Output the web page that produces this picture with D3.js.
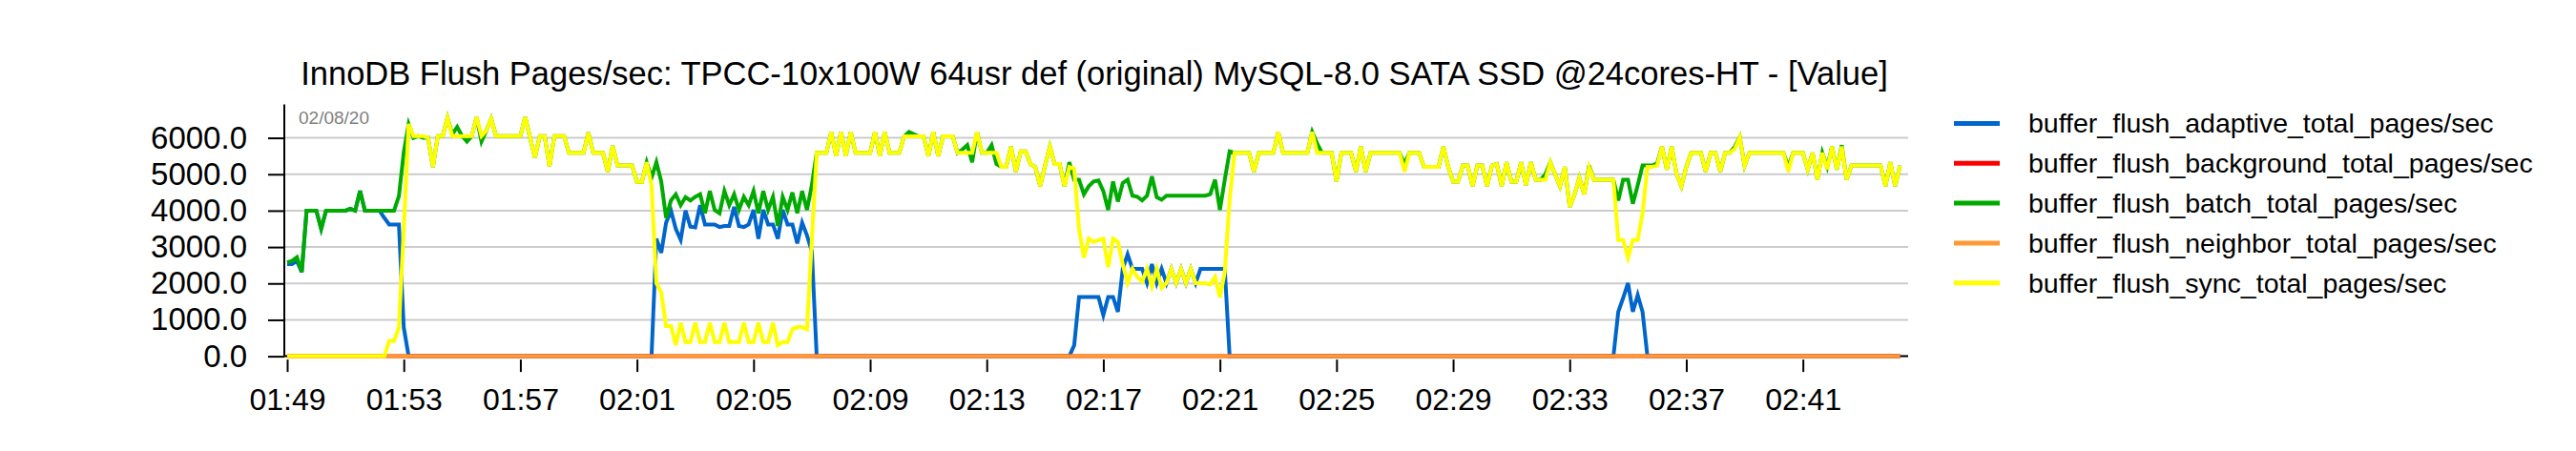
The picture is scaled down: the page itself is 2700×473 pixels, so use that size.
<!DOCTYPE html>
<html><head><meta charset="utf-8">
<script src="https://cdn.jsdelivr.net/npm/d3@7"></script>
<style>body{margin:0;background:#fff}svg{display:block}</style>
</head><body><svg id="c" width="2700" height="473"></svg>
<script>
const chartTitle = "InnoDB Flush Pages/sec: TPCC-10x100W 64usr def (original) MySQL-8.0 SATA SSD @24cores-HT - [Value]";
const dateLabel = "02/08/20";
const startTime = "2020-02-08T01:49:00";
const stepSeconds = 10;
const xTickLabels = ["01:49","01:53","01:57","02:01","02:05","02:09","02:13","02:17","02:21","02:25","02:29","02:33","02:37","02:41"];
const yTickValues = [0,1000,2000,3000,4000,5000,6000];
const seriesNames = ["buffer_flush_adaptive_total_pages/sec","buffer_flush_background_total_pages/sec","buffer_flush_batch_total_pages/sec","buffer_flush_neighbor_total_pages/sec","buffer_flush_sync_total_pages/sec"];
const seriesColors = ["#0066cc","#ff0000","#00aa00","#ff9933","#ffff00"];

const adaptivePages = [
2530,2530,2620,2310,4000,4000,4000,3500,4000,4000,
4000,4000,4000,4050,4000,4540,4000,4000,4000,4000,
3800,3620,3620,3620,790,0,0,0,0,0,
0,0,0,0,0,0,0,0,0,0,
0,0,0,0,0,0,0,0,0,0,
0,0,0,0,0,0,0,0,0,0,
0,0,0,0,0,0,0,0,0,0,
0,0,0,0,0,0,3230,2840,3670,4000,
3500,3200,4000,3560,3540,4150,3620,3620,3620,3550,
3580,3580,4100,3580,3550,3620,4020,3230,4020,3620,
3620,3230,4020,3620,3620,3100,3670,3320,2880,0,
0,0,0,0,0,0,0,0,0,0,
0,0,0,0,0,0,0,0,0,0,
0,0,0,0,0,0,0,0,0,0,
0,0,0,0,0,0,0,0,0,0,
0,0,0,0,0,0,0,0,0,0,
0,0,300,1630,1630,1630,1630,1630,1130,1630,
1630,1220,2400,2800,2400,2400,2400,2010,2530,2010,
2400,2010,2400,2010,2400,2010,2400,2010,2400,2400,
2400,2400,2400,2400,0,0,0,0,0,0,
0,0,0,0,0,0,0,0,0,0,
0,0,0,0,0,0,0,0,0,0,
0,0,0,0,0,0,0,0,0,0,
0,0,0,0,0,0,0,0,0,0,
0,0,0,0,0,0,0,0,0,0,
0,0,0,0,0,0,0,0,0,0,
0,0,0,0,0,0,0,0,0,0,
0,0,0,0,1220,1600,2010,1220,1680,1220,
0,0,0,0,0,0,0,0,0,0,
0,0,0,0,0,0,0,0,0,0,
0,0,0,0,0,0,0,0,0,0,
0,0,0,0,0,0,0,0,0,0,
0,0,0,0,0,0,0,0,0,0,
0,0,0];

const backgroundPages = [
0,0,0,0,0,0,0,0,0,0, 0,0,0,0,0,0,0,0,0,0, 0,0,0,0,0,0,0,0,0,0, 0,0,0,0,0,0,0,0,0,0,
0,0,0,0,0,0,0,0,0,0, 0,0,0,0,0,0,0,0,0,0, 0,0,0,0,0,0,0,0,0,0, 0,0,0,0,0,0,0,0,0,0,
0,0,0,0,0,0,0,0,0,0, 0,0,0,0,0,0,0,0,0,0, 0,0,0,0,0,0,0,0,0,0, 0,0,0,0,0,0,0,0,0,0,
0,0,0,0,0,0,0,0,0,0, 0,0,0,0,0,0,0,0,0,0, 0,0,0,0,0,0,0,0,0,0, 0,0,0,0,0,0,0,0,0,0,
0,0,0,0,0,0,0,0,0,0, 0,0,0,0,0,0,0,0,0,0, 0,0,0,0,0,0,0,0,0,0, 0,0,0,0,0,0,0,0,0,0,
0,0,0,0,0,0,0,0,0,0, 0,0,0,0,0,0,0,0,0,0, 0,0,0,0,0,0,0,0,0,0, 0,0,0,0,0,0,0,0,0,0,
0,0,0,0,0,0,0,0,0,0, 0,0,0,0,0,0,0,0,0,0, 0,0,0,0,0,0,0,0,0,0, 0,0,0,0,0,0,0,0,0,0,
0,0,0,0,0,0,0,0,0,0, 0,0,0,0,0,0,0,0,0,0, 0,0,0,0,0,0,0,0,0,0, 0,0,0,0,0,0,0,0,0,0,
0,0,0,0,0,0,0,0,0,0, 0,0,0];

const batchPages = [
2580,2620,2720,2310,4000,4000,4000,3500,4000,4000,
4000,4000,4000,4050,4000,4540,4000,4000,4000,4000,
4000,4000,4000,4400,5600,6380,6000,6050,6000,6000,
5200,6050,6050,6550,6100,6300,6050,5900,6050,6570,
5900,6200,6530,6050,6050,6050,6050,6050,6050,6570,
6000,5460,6050,6050,5220,6050,6050,6050,5590,5590,
5590,5590,6150,5590,5590,5590,5070,5780,5240,5240,
5240,5240,4790,4790,5330,4900,5330,4800,3800,4280,
4450,4150,4370,4280,4380,4450,3930,4540,4020,3930,
4540,4150,4450,4020,4380,4150,4540,3930,4540,4020,
4380,3580,4380,4020,4500,3930,4540,4020,4700,5590,
5590,5590,6160,5500,6160,5500,6160,5590,5590,5590,
5590,6160,5500,6160,5590,5590,5590,6040,6160,6100,
6040,6040,5500,6160,5500,6040,6040,6040,5590,5680,
5800,5330,6160,5590,5590,5800,5280,5200,5200,5760,
5070,5630,5630,5280,5200,4670,5240,5760,5280,5280,
4670,5330,4850,4850,4450,4670,4800,4830,4540,4020,
4800,4250,4760,4850,4410,4380,4280,4410,4940,4370,
4300,4410,4410,4410,4410,4410,4410,4410,4410,4410,
4450,4850,4020,4850,5630,5590,5590,5590,5590,5070,
5590,5590,5590,5590,6160,5590,5590,5590,5590,5590,
5590,6160,5850,5590,5590,5590,4800,5590,5590,5590,
5070,5760,5070,5590,5590,5590,5590,5590,5590,5590,
5280,5590,5590,5590,5200,5200,5200,5200,5760,5200,
4800,4800,5240,5240,4670,5240,5240,4670,5240,5280,
4670,5330,4800,4800,5330,4700,5330,4850,4850,5000,
5330,5000,4670,5200,4100,4450,4900,4450,5240,4850,
4850,4850,4850,4850,4280,4850,4850,4190,4700,5240,
5240,5240,5300,5760,5130,5760,5000,4670,5200,5590,
5590,5590,5070,5590,5590,5070,5590,5590,5760,6020,
5240,5590,5590,5590,5590,5590,5590,5590,5590,5200,
5590,5590,5590,5130,5590,4850,5590,5200,5760,5130,
5800,4850,5240,5240,5240,5240,5240,5240,5240,4670,
5330,4670,5240];

const neighborPages = [
0,0,0,0,0,0,0,0,0,0, 0,0,0,0,0,0,0,0,0,0, 0,0,0,0,0,0,0,0,0,0, 0,0,0,0,0,0,0,0,0,0,
0,0,0,0,0,0,0,0,0,0, 0,0,0,0,0,0,0,0,0,0, 0,0,0,0,0,0,0,0,0,0, 0,0,0,0,0,0,0,0,0,0,
0,0,0,0,0,0,0,0,0,0, 0,0,0,0,0,0,0,0,0,0, 0,0,0,0,0,0,0,0,0,0, 0,0,0,0,0,0,0,0,0,0,
0,0,0,0,0,0,0,0,0,0, 0,0,0,0,0,0,0,0,0,0, 0,0,0,0,0,0,0,0,0,0, 0,0,0,0,0,0,0,0,0,0,
0,0,0,0,0,0,0,0,0,0, 0,0,0,0,0,0,0,0,0,0, 0,0,0,0,0,0,0,0,0,0, 0,0,0,0,0,0,0,0,0,0,
0,0,0,0,0,0,0,0,0,0, 0,0,0,0,0,0,0,0,0,0, 0,0,0,0,0,0,0,0,0,0, 0,0,0,0,0,0,0,0,0,0,
0,0,0,0,0,0,0,0,0,0, 0,0,0,0,0,0,0,0,0,0, 0,0,0,0,0,0,0,0,0,0, 0,0,0,0,0,0,0,0,0,0,
0,0,0,0,0,0,0,0,0,0, 0,0,0,0,0,0,0,0,0,0, 0,0,0,0,0,0,0,0,0,0, 0,0,0,0,0,0,0,0,0,0,
0,0,0,0,0,0,0,0,0,0, 0,0,0];

const syncPages = [
0,0,0,0,0,0,0,0,0,0,
0,0,0,0,0,0,0,0,0,0,
0,420,420,790,3500,6380,6050,6050,6050,6000,
5200,6050,6050,6550,6050,6050,6050,6050,6050,6570,
6050,6200,6530,6050,6050,6050,6050,6050,6050,6570,
6000,5460,6050,6050,5220,6050,6050,6050,5590,5590,
5590,5590,6150,5590,5590,5590,5070,5780,5240,5240,
5240,5240,4790,4790,5330,4700,2010,1750,830,830,
310,920,390,390,920,390,390,920,390,390,
920,390,390,390,920,390,390,920,390,390,
920,300,390,390,740,800,800,740,3200,5590,
5590,5590,6160,5500,6160,5500,6160,5590,5590,5590,
5590,6160,5500,6160,5590,5590,5590,6040,6040,6040,
6040,6040,5500,6160,5500,6040,6040,6040,5590,5590,
5590,5590,6160,5590,5590,5590,5590,5200,5200,5760,
5070,5630,5630,5280,5200,4670,5240,5760,5280,5280,
4670,5200,5150,3500,2710,3230,3140,3190,3230,2450,
3230,3140,2530,2010,2400,2180,2050,2400,1920,2400,
1880,2010,2400,2010,2400,2010,2400,2010,2010,2010,
1970,2180,1620,2310,4300,5590,5590,5590,5590,5070,
5590,5590,5590,5590,6160,5590,5590,5590,5590,5590,
5590,6160,5590,5590,5590,5590,4800,5590,5590,5590,
5070,5760,5070,5590,5590,5590,5590,5590,5590,5590,
5070,5590,5590,5590,5200,5200,5200,5200,5760,5200,
4800,4800,5240,5240,4670,5240,5240,4670,5240,5280,
4670,5330,4800,4800,5330,4700,5330,4850,4850,4850,
5330,5000,4670,5200,4100,4450,4900,4450,5200,4850,
4850,4850,4850,4850,3190,3190,2710,3190,3190,3930,
5200,5200,5240,5760,5130,5760,5000,4670,5200,5590,
5590,5590,5070,5590,5590,5070,5590,5590,5700,6020,
5240,5590,5590,5590,5590,5590,5590,5590,5590,5070,
5590,5590,5590,5130,5590,4850,5590,5130,5760,5130,
5760,4850,5240,5240,5240,5240,5240,5240,5240,4670,
5330,4670,5240];

const seriesValues = [adaptivePages, backgroundPages, batchPages, neighborPages, syncPages];

const FONT = "'Liberation Sans', Arial, Helvetica, sans-serif";
const svg = d3.select("#c");
const t0 = new Date(startTime);
const timeAt = i => new Date(t0.getTime() + i * stepSeconds * 1000);
const nPts = syncPages.length;

const plotLeft = 301, plotRight = 1991.5, axisX = 298, gridRight = 2000;
const x = d3.scaleTime().domain([t0, timeAt(nPts - 1)]).range([plotLeft, plotRight]);
const y = d3.scaleLinear().domain([0, 6919]).range([373.6, 109.5]);

// gridlines
svg.append("g").selectAll("line").data(yTickValues).join("line")
  .attr("x1", axisX).attr("x2", gridRight)
  .attr("y1", d => y(d)).attr("y2", d => y(d))
  .attr("stroke", "#cccccc").attr("stroke-width", 2);

// x axis baseline (visible only at ends)
svg.append("line").attr("x1", axisX).attr("x2", gridRight)
  .attr("y1", y(0)).attr("y2", y(0)).attr("stroke", "#000").attr("stroke-width", 2);

// y axis
const yAxis = d3.axisLeft(y).tickValues(yTickValues).tickFormat(d3.format(".1f"))
  .tickSize(17).tickPadding(22);
const gy = svg.append("g").attr("transform", `translate(${axisX},0)`).call(yAxis);
gy.select(".domain").remove();
gy.selectAll(".tick line").attr("stroke", "#000").attr("stroke-width", 2);
gy.selectAll("text").attr("font-family", FONT).attr("font-size", 33).attr("fill", "#000");
svg.append("line").attr("x1", axisX).attr("x2", axisX).attr("y1", 109.5).attr("y2", y(0))
  .attr("stroke", "#000").attr("stroke-width", 2);

// x axis
const parseTick = s => { const [h, m] = s.split(":").map(Number); const d = new Date(t0); d.setHours(h, m, 0, 0); return d; };
const xAxis = d3.axisBottom(x).tickValues(xTickLabels.map(parseTick)).tickFormat(d3.timeFormat("%H:%M"))
  .tickSize(13).tickPadding(17);
const gx = svg.append("g").attr("transform", `translate(0,${y(0) + 3.5})`).call(xAxis);
gx.select(".domain").remove();
gx.selectAll(".tick line").attr("stroke", "#000").attr("stroke-width", 2);
gx.selectAll("text").attr("font-family", FONT).attr("font-size", 32).attr("fill", "#000");

// series
const line = d3.line().x((d, i) => x(timeAt(i))).y(d => y(d));
svg.append("g").selectAll("path").data(seriesValues).join("path")
  .attr("d", d => line(d)).attr("fill", "none")
  .attr("stroke", (d, i) => seriesColors[i]).attr("stroke-width", 4)
  .attr("stroke-linejoin", "miter");

// date label
svg.append("text").attr("x", 313).attr("y", 129.5).text(dateLabel)
  .attr("font-family", FONT).attr("font-size", 19).attr("fill", "#808080");

// title
svg.append("text").attr("x", 1147).attr("y", 89).attr("text-anchor", "middle").text(chartTitle)
  .attr("font-family", FONT).attr("font-size", 34.5).attr("fill", "#000");

// legend
const lg = svg.append("g");
seriesNames.forEach((name, i) => {
  const ly = 129.5 + 41.8 * i;
  lg.append("line").attr("x1", 2048).attr("x2", 2096).attr("y1", ly).attr("y2", ly)
    .attr("stroke", seriesColors[i]).attr("stroke-width", 5);
  lg.append("text").attr("x", 2126).attr("y", ly).attr("dy", "0.35em").text(name)
    .attr("font-family", FONT).attr("font-size", 28.5).attr("fill", "#000");
});
</script></body></html>
